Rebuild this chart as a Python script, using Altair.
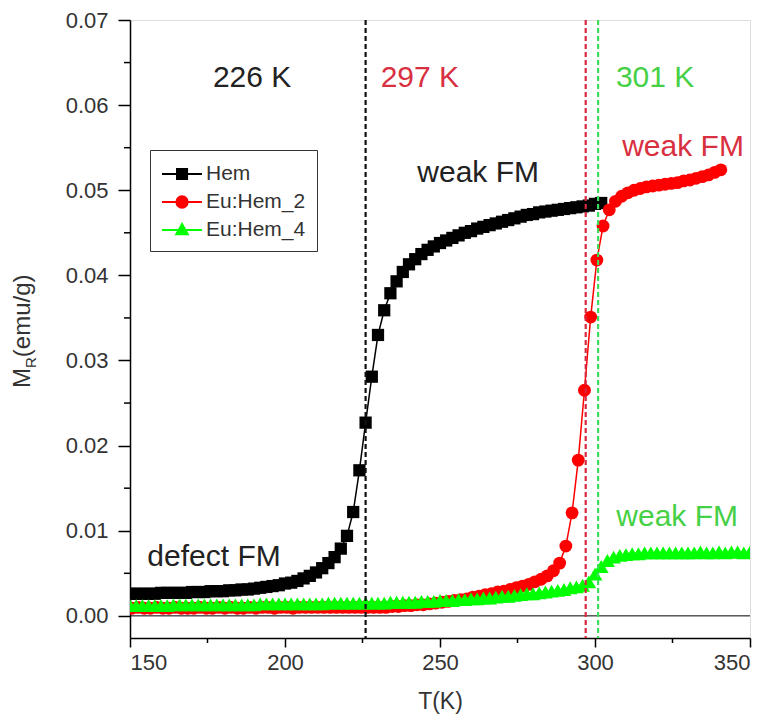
import altair as alt
import pandas as pd

# ---------------- data ----------------
hem_T = [150, 152, 154, 156, 158, 160, 162, 164, 166, 168,
         170, 172, 174, 176, 178, 180, 182, 184, 186, 188,
         190, 192, 194, 196, 198, 200, 202, 204, 206, 208,
         210, 212, 214, 216, 218, 220, 222, 224, 226, 228,
         230, 232, 234, 236, 238, 240, 242, 244, 246, 248,
         250, 252, 254, 256, 258, 260, 262, 264, 266, 268,
         270, 272, 274, 276, 278, 280, 282, 284, 286, 288,
         290, 292, 294, 296, 298, 300, 302]
hem_M = [.0026, .0026, .0026, .0026, .0026, .0027, .0027, .0027, .0027, .0027,
         .0028, .0028, .0028, .0029, .0029, .0029, .0030, .0030, .0031, .0031,
         .0032, .0033, .0034, .0035, .0036, .0038, .0039, .0041, .0044, .0047,
         .0051, .0056, .0062, .0069, .0079, .0094, .0122, .0171, .0227, .0281,
         .0330, .0359, .0379, .0393, .0404, .0413, .0419, .0425, .0430, .0434,
         .0438, .0441, .0444, .0447, .0450, .0452, .0455, .0457, .0459, .0461,
         .0463, .0465, .0467, .0469, .0471, .0472, .0474, .0475, .0476, .0477,
         .0478, .0479, .0480, .0481, .0482, .0484, .0485]

eu2_T = [150.6, 152.6, 154.6, 156.6, 158.6, 160.6, 162.6, 164.6, 166.6, 168.6,
         170.6, 172.6, 174.6, 176.6, 178.6, 180.6, 182.6, 184.6, 186.6, 188.6,
         190.6, 192.6, 194.6, 196.6, 198.6, 200.6, 202.6, 204.6, 206.6, 208.6,
         210.6, 212.6, 214.6, 216.6, 218.6, 220.6, 222.6, 224.6, 226.6, 228.6,
         230.6, 232.6, 234.6, 236.6, 238.6, 240.6, 242.6, 244.6, 246.6, 248.6,
         250.6, 252.6, 254.6, 256.6, 258.6, 260.6, 262.6, 264.6, 266.6, 268.6,
         270.6, 272.6, 274.6, 276.6, 278.6, 280.6, 282.6, 284.6, 286.6, 288.6,
         290.6, 292.6, 294.6, 296.6, 298.6, 300.6, 302.6, 304.6, 306.6, 308.6,
         310.6, 312.6, 314.6, 316.6, 318.6, 320.6, 322.6, 324.6, 326.6, 328.6,
         330.6, 332.6, 334.6, 336.6, 338.6, 340.6]
eu2_M = [.0009, .0010, .0009, .0009, .0010, .0009, .0009, .0010, .0009, .0009,
         .0009, .0010, .0009, .0009, .0010, .0009, .0010, .0009, .0009, .0010,
         .0009, .0010, .0010, .0009, .0010, .0010, .0009, .0010, .0010, .0010,
         .0010, .0010, .0010, .0010, .0010, .0010, .0010, .0010, .0010, .0010,
         .0010, .0010, .0011, .0011, .0012, .0012, .0013, .0013, .0014, .0015,
         .0016, .0017, .0018, .0019, .0020, .0022, .0023, .0025, .0026, .0028,
         .0029, .0031, .0033, .0035, .0037, .0040, .0043, .0047, .0053, .0062,
         .0082, .0121, .0183, .0265, .0351, .0418, .0458, .0477, .0487, .0493,
         .0497, .0500, .0502, .0504, .0505, .0506, .0507, .0508, .0509, .0511,
         .0512, .0514, .0516, .0518, .0521, .0524]

eu4_T = [150, 152, 154, 156, 158, 160, 162, 164, 166, 168,
         170, 172, 174, 176, 178, 180, 182, 184, 186, 188,
         190, 192, 194, 196, 198, 200, 202, 204, 206, 208,
         210, 212, 214, 216, 218, 220, 222, 224, 226, 228,
         230, 232, 234, 236, 238, 240, 242, 244, 246, 248,
         250, 252, 254, 256, 258, 260, 262, 264, 266, 268,
         270, 272, 274, 276, 278, 280, 282, 284, 286, 288,
         290, 292, 294, 296, 298, 300, 302, 304, 306, 308,
         310, 312, 314, 316, 318, 320, 322, 324, 326, 328,
         330, 332, 334, 336, 338, 340, 342, 344, 346, 348,
         350]
eu4_M = [.0012, .0012, .0012, .0012, .0012, .0012, .0012, .0013, .0013, .0013,
         .0013, .0013, .0013, .0013, .0013, .0013, .0013, .0013, .0013, .0013,
         .0013, .0014, .0014, .0014, .0014, .0014, .0014, .0014, .0014, .0014,
         .0014, .0014, .0015, .0015, .0015, .0015, .0015, .0015, .0015, .0015,
         .0015, .0015, .0016, .0016, .0016, .0016, .0016, .0017, .0017, .0017,
         .0018, .0018, .0018, .0019, .0019, .0020, .0020, .0021, .0021, .0022,
         .0023, .0023, .0024, .0025, .0026, .0026, .0027, .0028, .0029, .0030,
         .0031, .0033, .0034, .0036, .0040, .0049, .0058, .0065, .0069, .0071,
         .0072, .0073, .0073, .0074, .0074, .0074, .0074, .0074, .0074, .0074,
         .0074, .0074, .0075, .0074, .0074, .0075, .0074, .0075, .0075, .0074,
         .0075]

series_names = ["Hem", "Eu:Hem_2", "Eu:Hem_4"]
series_colors = ["#000000", "#ff0000", "#00ff00"]
series_shapes = ["square", "circle", "triangle-up"]
series_sizes = [150, 165, 220]
# legend glyphs: short line with the marker in its middle
legend_paths = [
    "M-1,0L2.33,0M0.25,-0.42L1.09,-0.42L1.09,0.42L0.25,0.42Z",
    "M-1,0L2.33,0M0.2,0A0.47,0.47 0 1,0 1.14,0A0.47,0.47 0 1,0 0.2,0Z",
    "M-1,0L2.33,0M0.67,-0.5L1.15,0.36L0.19,0.36Z",
]

tc_T = [226, 297, 301]
tc_colors = ["#111111", "#d8283f", "#3ddc5a"]

note_text = ["226 K", "297 K", "301 K", "weak FM", "weak FM", "weak FM", "defect FM"]
note_T = [189.4, 243.5, 319.4, 262.3, 328.4, 326.5, 177.1]
note_M = [0.0632, 0.0632, 0.0632, 0.0520, 0.0551, 0.0116, 0.0069]
note_colors = ["#222222", "#d83040", "#45d045", "#222222", "#d83040", "#45d045", "#222222"]

x_major = [150, 200, 250, 300, 350]
x_minor = [175, 225, 275, 325]
y_major = [0.00, 0.01, 0.02, 0.03, 0.04, 0.05, 0.06, 0.07]
y_minor = [0.005, 0.015, 0.025, 0.035, 0.045, 0.055, 0.065]

X_DOMAIN = [150, 350]
Y_DOMAIN = [-0.0026, 0.07]

# ---------------- layout / style ----------------
W, H = 620, 618
FONT = "Liberation Sans"
TXT = "#333333"

xscale = alt.Scale(domain=X_DOMAIN, nice=False, zero=False)
yscale = alt.Scale(domain=Y_DOMAIN, nice=False, zero=False)

x_axis = alt.Axis(values=x_major, format="d", title="T(K)", grid=False,
                  labelFont=FONT, labelFontSize=22, labelColor=TXT, labelPadding=5,
                  titleFont=FONT, titleFontSize=23, titleFontWeight="normal",
                  titleColor=TXT, titlePadding=17, tickSize=9, tickWidth=1.5,
                  tickColor="#000", domainColor="#000", domainWidth=1.5)
y_axis = alt.Axis(values=y_major, format=".2f", title=None, grid=False,
                  labelFont=FONT, labelFontSize=22, labelColor=TXT, labelPadding=10,
                  tickSize=12, tickWidth=1.5, tickColor="#000",
                  domainColor="#000", domainWidth=1.5)


def X(field="T"):
    return alt.X(f"{field}:Q", scale=xscale, axis=x_axis)


def Y(field="M"):
    return alt.Y(f"{field}:Q", scale=yscale, axis=y_axis)


layers = []

# zero line
layers.append(alt.Chart(pd.DataFrame({"M": [0.0]}))
              .mark_rule(color="#000", strokeWidth=1)
              .encode(y=Y()))

# data series
all_T = [hem_T, eu2_T, eu4_T]
all_M = [hem_M, eu2_M, eu4_M]
for name, T, M, col, shp, sz in zip(series_names, all_T, all_M,
                                    series_colors, series_shapes, series_sizes):
    df = pd.DataFrame({"T": T, "M": M, "series": name})
    base = alt.Chart(df).encode(x=X(), y=Y())
    layers.append(base.mark_line(color=col, strokeWidth=1.5, clip=True))
    layers.append(base.mark_point(shape=shp, filled=True, size=sz, color=col,
                                  opacity=1, clip=True))

# transition temperature dashed lines
for t, c in zip(tc_T, tc_colors):
    layers.append(alt.Chart(pd.DataFrame({"T": [t]}))
                  .mark_rule(color=c, strokeDash=[5, 3], strokeWidth=2.2)
                  .encode(x=X()))

# annotations
for txt, t, m, c in zip(note_text, note_T, note_M, note_colors):
    layers.append(alt.Chart(pd.DataFrame({"T": [t], "M": [m], "label": [txt]}))
                  .mark_text(font=FONT, fontSize=30, color=c, align="center",
                             baseline="middle")
                  .encode(x=X(), y=Y(), text="label:N"))

# legend (invisible anchor marks, visible legend)
leg = alt.Legend(orient="none", legendX=20, legendY=130, title=None,
                 fillColor="white", strokeColor="#333333", padding=11,
                 labelFont=FONT, labelFontSize=21, labelColor=TXT,
                 symbolSize=576, symbolStrokeWidth=2, symbolOpacity=1,
                 labelOffset=19, rowPadding=5)
df_leg = pd.DataFrame({"series": series_names,
                       "T": [hem_T[0], eu2_T[0], eu4_T[0]],
                       "M": [hem_M[0], eu2_M[0], eu4_M[0]]})
layers.append(alt.Chart(df_leg).mark_point(filled=True, opacity=0)
              .encode(x=X(), y=Y(),
                      color=alt.Color("series:N", scale=alt.Scale(domain=series_names, range=series_colors), legend=leg),
                      stroke=alt.Stroke("series:N", scale=alt.Scale(domain=series_names, range=series_colors), legend=leg),
                      shape=alt.Shape("series:N", scale=alt.Scale(domain=series_names, range=legend_paths), legend=leg)))

# minor ticks
layers.append(alt.Chart(pd.DataFrame({"T": x_minor}))
              .mark_rule(color="#000", strokeWidth=1.5)
              .encode(x=X(), y=alt.value(H), y2=alt.value(H + 5)))
layers.append(alt.Chart(pd.DataFrame({"M": y_minor}))
              .mark_rule(color="#000", strokeWidth=1.5)
              .encode(y=Y(), x=alt.value(0), x2=alt.value(-6)))

# y-axis title with subscript: M_R(emu/g)
title_x = -100
title_y0 = 368
parts = [("M", 24, 0, 0), ("R", 15, 6, 20.0), ("(emu/g)", 24, 0, 30.8)]
for txt, fs, dx, dy in parts:
    layers.append(alt.Chart(pd.DataFrame({"t": [txt]}))
                  .mark_text(font=FONT, fontSize=fs, color=TXT, angle=270,
                             align="left", baseline="alphabetic")
                  .encode(x=alt.value(title_x + dx), y=alt.value(title_y0 - dy),
                          text="t:N"))

chart = (alt.layer(*layers)
         .properties(width=W, height=H,
                     autosize=alt.AutoSizeParams(type="none"),
                     padding={"left": 122, "top": 12, "right": 12, "bottom": 81})
         .configure_view(stroke="#000", strokeWidth=1.5)
         .configure(background="white"))

chart.save("out.html", embed_options={"renderer": "svg", "actions": False})
